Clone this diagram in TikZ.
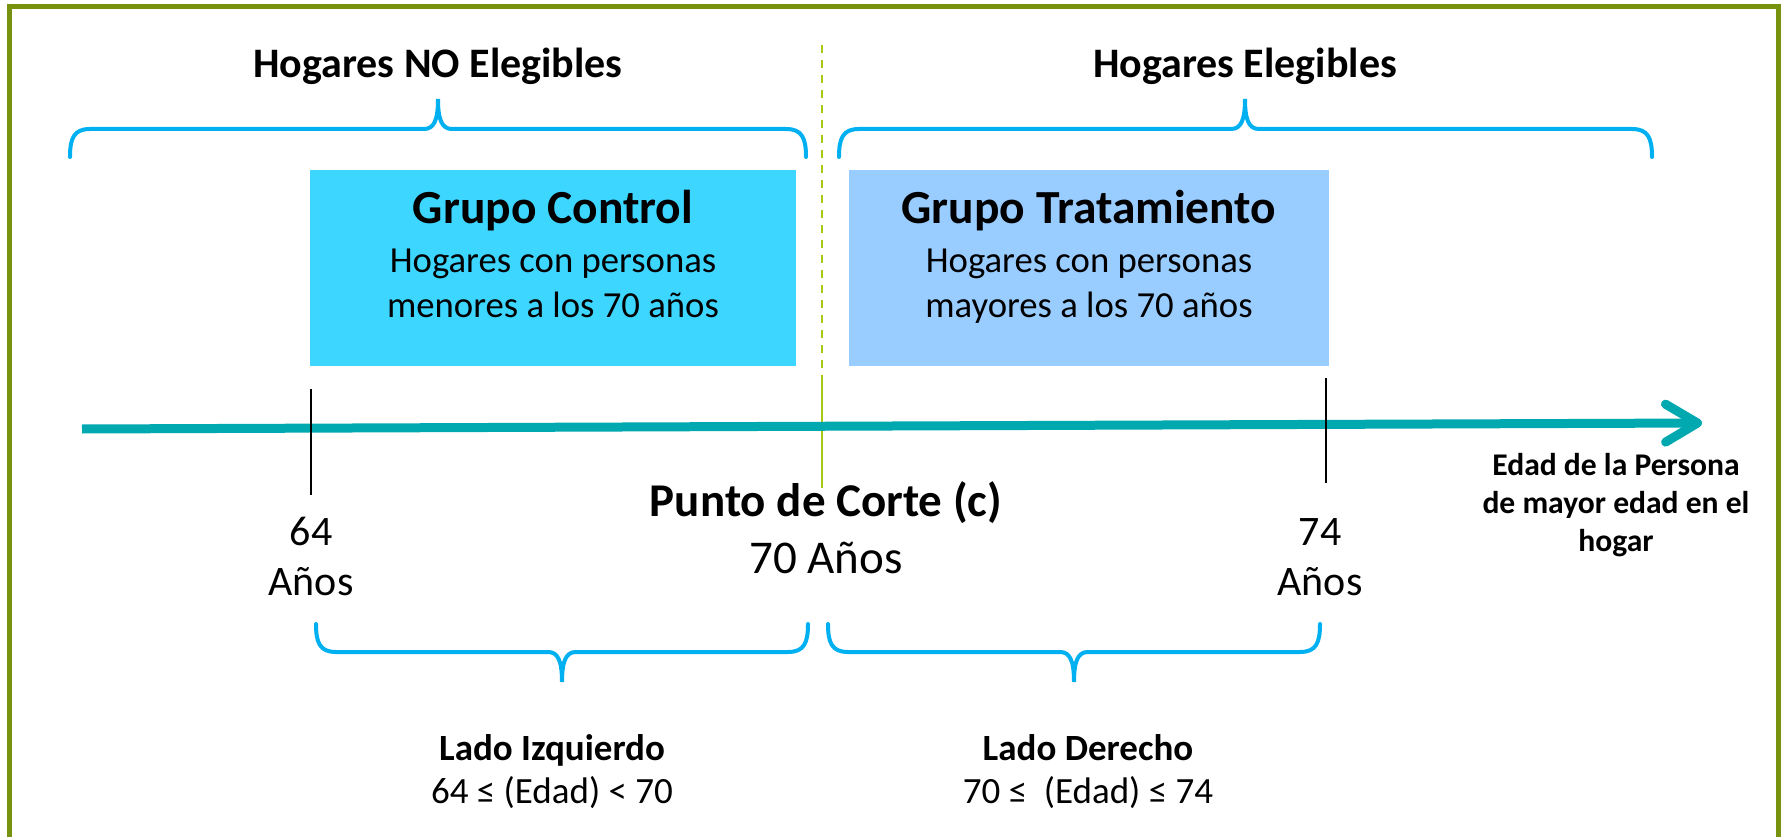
\documentclass[tikz,border=0pt]{standalone}
\usepackage{fontspec}
\setmainfont{Carlito}
\usetikzlibrary{arrows.meta}

\definecolor{marco}{RGB}{118,146,14}
\definecolor{azulllave}{RGB}{0,176,240}
\definecolor{celeste}{RGB}{61,214,255}
\definecolor{azulclaro}{RGB}{153,204,255}
\definecolor{verdeazul}{RGB}{0,168,176}
\definecolor{verdecorte}{RGB}{166,202,20}

\begin{document}
\begin{tikzpicture}[x=1pt,y=-1pt,
    corchete/.style={draw=azulllave, line width=4pt, line cap=round},
    caja/.style={rectangle, inner sep=0pt, minimum width=#1, minimum height=196pt},
    titulo/.style={font=\fontsize{42}{51}\selectfont\bfseries, anchor=base},
    grupo/.style={font=\fontsize{47.5}{57}\selectfont\bfseries, anchor=base},
    desc/.style={font=\fontsize{36.7}{45}\selectfont, align=center, anchor=base, inner sep=0pt},
    anios/.style={font=\fontsize{42}{50}\selectfont, align=center, anchor=base, inner sep=0pt},
    lado/.style={font=\fontsize{37}{43}\selectfont, align=center, anchor=base, inner sep=0pt},
    marca/.style={draw=black, line width=1.5pt}]

    \useasboundingbox (0,0) rectangle (1781,837);
    \clip (0,0) rectangle (1781,837);
    \draw [marco, line width=5pt] (9.5,6.5) rectangle (1778.5,860);

    % cutoff line
    \draw [verdecorte, line width=2pt, dash pattern=on 8pt off 7pt] (822,45) -- (822,420);
    \draw [verdecorte, line width=2pt] (822,382) -- (822,488);

    % groups
    \node [caja=486pt, fill=celeste] (control) at (553,268) {};
    \node [caja=480pt, fill=azulclaro] (tratamiento) at (1089,268) {};
    \node [grupo] (controlT) at (553,224) {Grupo Control};
    \node [desc] (controlD) at (553,317) {Hogares con personas\\menores a los 70 años};
    \node [grupo] (tratamientoT) at (1089,224) {Grupo Tratamiento};
    \node [desc] (tratamientoD) at (1089,317) {Hogares con personas\\mayores a los 70 años};

    % top braces
    \node [titulo] (noelegibles) at (438,78) {Hogares NO Elegibles};
    \node [titulo] (elegibles) at (1245,78) {Hogares Elegibles};
    \draw [corchete] (70,157) .. controls (70,138) and (74,129) .. (90,129) -- (424,129)
        .. controls (434,129) and (438,120) .. (438,99) .. controls (438,120) and (442,129) .. (452,129)
        -- (786,129) .. controls (802,129) and (806,138) .. (806,157);
    \draw [corchete] (839,157) .. controls (839,138) and (843,129) .. (859,129) -- (1231,129)
        .. controls (1241,129) and (1245,120) .. (1245,99) .. controls (1245,120) and (1249,129) .. (1259,129)
        -- (1632,129) .. controls (1648,129) and (1652,138) .. (1652,157);

    % axis
    \coordinate (inicio) at (82,429);
    \coordinate (fin) at (1702,423);
    \draw [verdeazul, line width=9pt, -{Straight Barb[length=32pt,width=38pt,round]}] (inicio) -- (fin);
    \node [font=\fontsize{31.6}{38}\selectfont\bfseries, align=center, anchor=base, inner sep=0pt] (edad) at (1616,551) {Edad de la Persona\\de mayor edad en el\\hogar};

    \draw [marca] (311,389) -- (311,495);
    \draw [marca] (1326,378) -- (1326,483);
    \node [anios] (a64) at (311,595) {64\\Años};
    \node [anios] (a74) at (1320,595) {74\\Años};
    \node [font=\fontsize{47}{57}\selectfont, align=center, anchor=base, inner sep=0pt] (punto) at (826,573) {{\bfseries Punto de Corte (c)}\\70 Años};

    % bottom braces
    \draw [corchete] (316,624) .. controls (316,643) and (320,652) .. (336,652) -- (548,652)
        .. controls (558,652) and (562,661) .. (562,682) .. controls (562,661) and (566,652) .. (576,652)
        -- (788,652) .. controls (804,652) and (808,643) .. (808,624);
    \draw [corchete] (828,624) .. controls (828,643) and (832,652) .. (848,652) -- (1060,652)
        .. controls (1070,652) and (1074,661) .. (1074,682) .. controls (1074,661) and (1078,652) .. (1088,652)
        -- (1300,652) .. controls (1316,652) and (1320,643) .. (1320,624);
    \node [lado] (izq) at (552,803) {{\bfseries Lado Izquierdo}\\64 ≤ (Edad) < 70};
    \node [lado] (der) at (1088,803) {{\bfseries Lado Derecho}\\70 ≤~ (Edad) ≤ 74};
\end{tikzpicture}
\end{document}
